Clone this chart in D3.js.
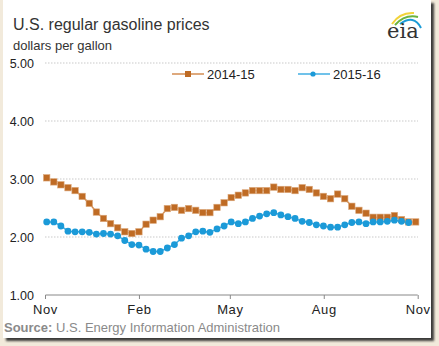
<!DOCTYPE html>
<html><head><meta charset="utf-8">
<script src="https://cdn.jsdelivr.net/npm/d3@7"></script>
<style>body{margin:0;background:#f2eadb;} svg{display:block;}</style>
</head><body><svg id="c" width="439" height="346"></svg>
<script>
// ---- data ----
const seriesNames = ["2014-15", "2015-16"];
const prices2014_15 = [3.02,2.95,2.90,2.85,2.80,2.70,2.58,2.43,2.32,2.23,2.16,2.09,2.06,2.09,2.22,2.29,2.35,2.49,2.51,2.46,2.49,2.46,2.42,2.42,2.51,2.59,2.68,2.72,2.76,2.80,2.80,2.80,2.86,2.82,2.82,2.80,2.85,2.82,2.76,2.70,2.66,2.74,2.66,2.53,2.46,2.41,2.34,2.34,2.34,2.37,2.30,2.26,2.26];
const prices2015_16 = [2.26,2.26,2.19,2.10,2.09,2.09,2.08,2.05,2.06,2.05,2.02,1.94,1.87,1.86,1.79,1.75,1.75,1.81,1.87,1.98,2.02,2.09,2.10,2.08,2.14,2.19,2.26,2.23,2.26,2.32,2.36,2.40,2.42,2.38,2.35,2.32,2.27,2.25,2.21,2.19,2.17,2.17,2.21,2.25,2.26,2.23,2.26,2.26,2.27,2.29,2.27,2.25];
const yTicks = [1, 2, 3, 4, 5];
const monthLabels = ["Nov", "Feb", "May", "Aug", "Nov"];
const monthDates = ["2014-11-01", "2015-02-01", "2015-05-01", "2015-08-01", "2015-11-01"];

const colors = {orange: "#bf6b24", orangeLine: "#d38d52", blue: "#1b9ad8", blueLine: "#41aee3"};

const svg = d3.select("#c");
const defs = svg.append("defs");
const f = defs.append("filter").attr("id", "sh").attr("x", "-5%").attr("y", "-5%").attr("width", "115%").attr("height", "115%");
f.append("feDropShadow").attr("dx", 3).attr("dy", 3).attr("stdDeviation", 1.3).attr("flood-color", "#2a2a2a").attr("flood-opacity", 0.9);

// panel
svg.append("rect").attr("x", 3).attr("y", 0).attr("width", 428).attr("height", 338)
  .attr("fill", "#fff").attr("filter", "url(#sh)");

// scales
const y = d3.scaleLinear().domain([1, 5]).range([295, 63]);
const xTime = d3.scaleTime().domain([new Date(2014, 10, 1), new Date(2015, 10, 1)]).range([45, 417.7]);
const xWeek = d3.scaleLinear().domain([0, 52]).range([46.7, 415.7]);

// gridlines
svg.append("g").selectAll("line").data(yTicks.filter(d => d > 1)).join("line")
  .attr("x1", 45).attr("x2", 418).attr("y1", d => y(d)).attr("y2", d => y(d))
  .attr("stroke", "#c9c9c9").attr("stroke-width", 1).attr("stroke-dasharray", "1.5,1.5");

// y labels
svg.append("g").selectAll("text").data(yTicks).join("text")
  .attr("x", 34).attr("y", d => y(d) + 4.5).attr("text-anchor", "end")
  .attr("font-family", "Liberation Sans, Arial, sans-serif").attr("font-size", 12.5).attr("fill", "#222")
  .text(d => d3.format(".2f")(d));

// x axis
const dates = monthDates.map(d => d3.timeParse("%Y-%m-%d")(d));
const xAxis = d3.axisBottom(xTime).tickValues(dates).tickSize(4).tickPadding(6)
  .tickFormat((d, i) => monthLabels[i]);
const gx = svg.append("g").attr("transform", "translate(0,295)").call(xAxis);
gx.select(".domain").attr("stroke", "#888").attr("d", "M45.5,0H417.7");
gx.selectAll(".tick line").attr("stroke", "#888");
gx.selectAll(".tick text").attr("font-family", "Liberation Sans, Arial, sans-serif").attr("font-size", 13)
  .attr("fill", "#222").attr("letter-spacing", "0.6px");

// lines
const line = d3.line().x((d, i) => xWeek(i)).y(d => y(d));
svg.append("path").datum(prices2014_15).attr("d", line).attr("fill", "none")
  .attr("stroke", colors.orangeLine).attr("stroke-width", 1.5);
svg.append("path").datum(prices2015_16).attr("d", line).attr("fill", "none")
  .attr("stroke", colors.blueLine).attr("stroke-width", 1.5);

svg.append("g").selectAll("rect").data(prices2014_15).join("rect")
  .attr("x", (d, i) => xWeek(i) - 3.2).attr("y", d => y(d) - 3.2).attr("width", 6.4).attr("height", 6.4)
  .attr("fill", colors.orange).attr("stroke", "#dba77a").attr("stroke-width", 0.6);
svg.append("g").selectAll("circle").data(prices2015_16).join("circle")
  .attr("cx", (d, i) => xWeek(i)).attr("cy", d => y(d)).attr("r", 3.4)
  .attr("fill", colors.blue);

// legend
const lg = svg.append("g").attr("font-family", "Liberation Sans, Arial, sans-serif").attr("font-size", 13).attr("fill", "#222");
lg.append("line").attr("x1", 172).attr("x2", 204).attr("y1", 74).attr("y2", 74).attr("stroke", colors.orangeLine).attr("stroke-width", 1.5);
lg.append("rect").attr("x", 185).attr("y", 71).attr("width", 6).attr("height", 6).attr("fill", colors.orange);
lg.append("text").attr("x", 207).attr("y", 78.5).text(seriesNames[0]);
lg.append("line").attr("x1", 298).attr("x2", 330).attr("y1", 74).attr("y2", 74).attr("stroke", colors.blueLine).attr("stroke-width", 1.5);
lg.append("circle").attr("cx", 313).attr("cy", 74).attr("r", 2.6).attr("fill", colors.blue);
lg.append("text").attr("x", 333).attr("y", 78.5).text(seriesNames[1]);

// titles
svg.append("text").attr("x", 13).attr("y", 30).attr("font-family", "Liberation Sans, Arial, sans-serif")
  .attr("font-size", 16).attr("fill", "#333").text("U.S. regular gasoline prices");
svg.append("text").attr("x", 13).attr("y", 50).attr("font-family", "Liberation Sans, Arial, sans-serif")
  .attr("font-size", 13).attr("fill", "#333").text("dollars per gallon");

// source
const src = svg.append("text").attr("x", 4).attr("y", 332).attr("font-family", "Liberation Sans, Arial, sans-serif")
  .attr("font-size", 13).attr("fill", "#8a8a8a");
src.append("tspan").attr("font-weight", "bold").text("Source:");
src.append("tspan").text(" U.S. Energy Information Administration");

// eia logo
const logo = svg.append("g");
logo.append("path").attr("d", "M392,24 Q400,12 414,13").attr("fill", "none").attr("stroke", "#f2d33a").attr("stroke-width", 2);
logo.append("path").attr("d", "M395,25 Q405,14 418,17").attr("fill", "none").attr("stroke", "#6cb33e").attr("stroke-width", 2);
logo.append("path").attr("d", "M400,24 Q414,14 421,28").attr("fill", "none").attr("stroke", "#1a9bd7").attr("stroke-width", 2);
logo.append("text").attr("x", 387).attr("y", 38).attr("font-family", "DejaVu Serif, Liberation Serif, serif")
  .attr("font-size", 21).attr("fill", "#333").text("eia");
</script></body></html>
